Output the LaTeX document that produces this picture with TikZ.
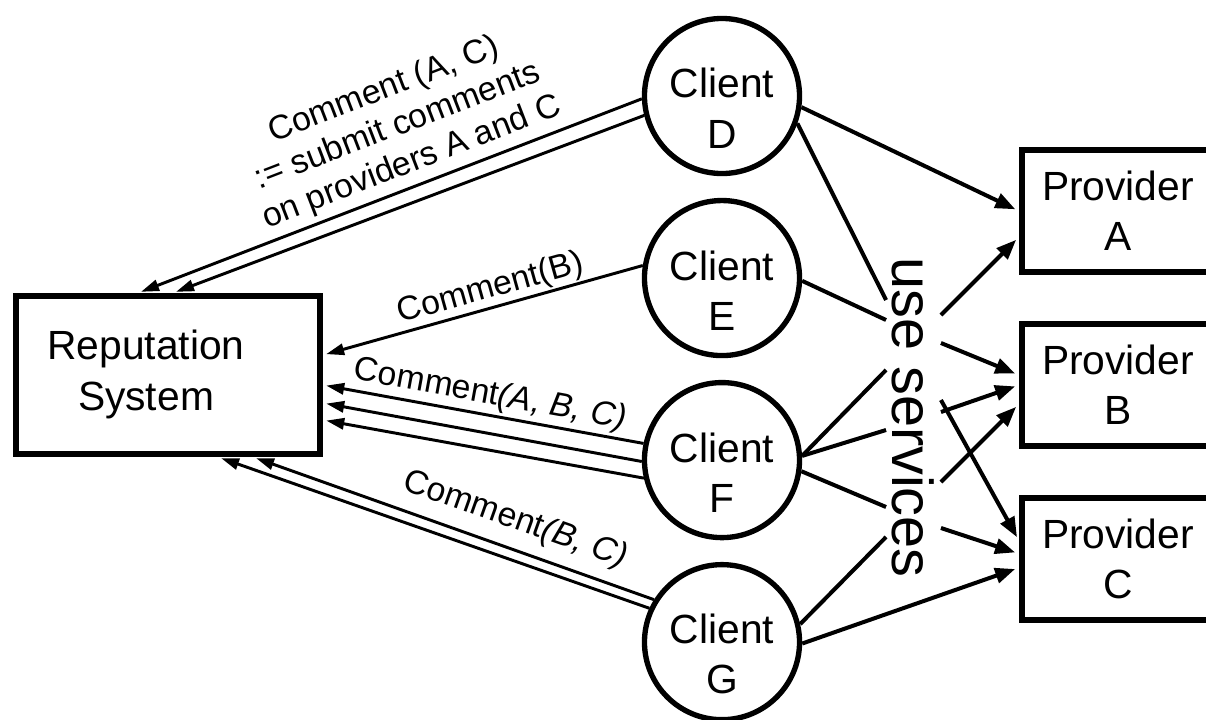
\documentclass[tikz,border=0pt]{standalone}
\usepackage{fontspec}
\setmainfont{Liberation Sans}
\usetikzlibrary{arrows.meta,calc}
\newcommand{\clienttext}[1]{\rule{0pt}{1.35cm}Client\\#1}

\begin{document}
\begin{tikzpicture}[
    x=0.025cm, y=-0.025cm,
    box/.style={shape=rectangle,draw,line width=4.3pt,font=\fontsize{29}{35.6}\selectfont,align=center},
    client/.style={shape=circle,draw,line width=3.8pt,minimum size=3.875cm,inner sep=0pt,font=\fontsize{29}{35.6}\selectfont,align=center},
    use line/.style={line width=2.85pt},
    use arrow/.style={use line,-{Triangle[length=0.5cm,width=0.38cm]},shorten >=0.1cm},
    comment line/.style={line width=2.1pt,-{Triangle[length=0.45cm,width=0.28cm]},shorten >=0.08cm},
    comment label/.style={font=\fontsize{24}{27.7}\selectfont,align=center,inner sep=1pt,sloped,above},
]
\useasboundingbox (0,0) rectangle (1206,719);
\node[box,minimum width=7.6cm,minimum height=3.95cm] (rep) at (168,375) {\begin{tabular}{@{}c@{}}Reputation\\System\end{tabular}\hspace*{1.1cm}};
\node[client] (cD) at (722,96) {\clienttext{D}};
\node[client,below of=cD,node distance=4.55cm] (cE) {\clienttext{E}};
\node[client,below of=cE,node distance=4.55cm] (cF) {\clienttext{F}};
\node[client,below of=cF,node distance=4.55cm] (cG) {\clienttext{G}};
\node[box,minimum width=4.8cm,minimum height=3.05cm] (pA) at (1118,211) {Provider\\A};
\node[box,minimum width=4.8cm,minimum height=3.05cm,below of=pA,node distance=4.35cm] (pB) {Provider\\B};
\node[box,minimum width=4.8cm,minimum height=3.05cm,below of=pB,node distance=4.34cm] (pC) {Provider\\C};
\node[inner sep=0.15cm,font=\fontsize{41}{49}\selectfont] (svc) at (913.5,417.5) {\rotatebox{-90}{use services}};
% comments sent to the reputation system
\path[comment line]
    (cD.182) edge node[comment label,pos=0.44,above=3pt] {Comment (A, C)\\:= submit comments\\on providers A and C} ($(rep.north)+(-30,0)$)
    (cD.194) edge ($(rep.north)+(5,0)$)
    (cE.171) edge node[comment label,pos=0.46] {Comment(B)} ($(rep.east)+(0,-20)$)
    (cF.168) edge node[comment label,pos=0.49,above=1pt] {Comment\textit{(A, B, C)}} ($(rep.east)+(0,10)$)
    (cF.181) edge ($(rep.east)+(0,28)$)
    (cF.193) edge ($(rep.east)+(0,45)$)
    (cG.148) edge node[comment label,pos=0.37,above=7pt] {Comment\textit{(B, C)}} ($(rep.south)+(85,0)$)
    (cG.155) edge ($(rep.south)+(50,0)$);
% clients use the providers
\path[use line]
    (cD.-20) edge ($(svc.west)+(0,-117.5)$)
    (cE.-2) edge ($(svc.west)+(0,-97.5)$)
    (cF.3) edge ($(svc.west)+(0,-47.5)$)
    (cF.3) edge ($(svc.west)+(0,12.5)$)
    (cF.-8) edge ($(svc.west)+(0,89.5)$)
    (cG.13) edge ($(svc.west)+(0,119.5)$);
\path[use arrow]
    (cD.-8) edge (pA.west)
    (cG.-1) edge ($(pC.west)+(0,9)$)
    ($(svc.east)+(0,-102.5)$) edge ($(pA.west)+(0,26)$)
    ($(svc.east)+(0,-74.5)$) edge ($(pB.west)+(0,-10)$)
    ($(svc.east)+(0,-5.5)$) edge (pB.west)
    ($(svc.east)+(0,64.5)$) edge ($(pB.west)+(0,19)$)
    ($(svc.east)+(0,-17.5)$) edge ($(pC.west)+(0,-18)$)
    ($(svc.east)+(0,110.5)$) edge ($(pC.west)+(0,-5)$);
\end{tikzpicture}
\end{document}
